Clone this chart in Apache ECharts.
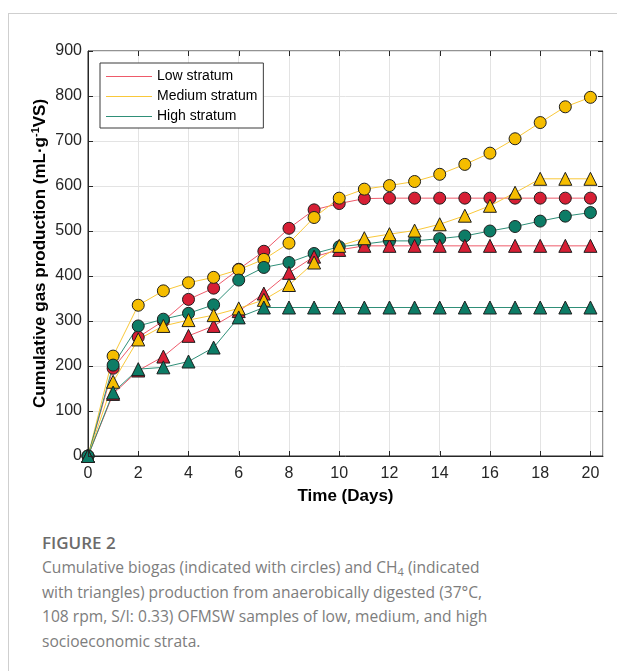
<!DOCTYPE html>
<html>
<head>
<meta charset="utf-8">
<script src="https://cdn.jsdelivr.net/npm/echarts@6/dist/echarts.min.js"></script>
<style>
  html, body { margin: 0; padding: 0; background: #fff; }
  #wrap { position: relative; width: 617px; height: 671px; overflow: hidden; }
  #frame { position: absolute; left: 8px; top: 13px; width: 700px; height: 700px;
           border-top: 1px solid #cfcfcf; border-left: 1px solid #cfcfcf; }
  #chart { position: absolute; left: 0; top: 0; width: 617px; height: 520px; }
  .fig { position: absolute; left: 42px; top: 531px; font-family: "Open Sans", sans-serif;
         font-size: 17px; font-weight: 600; color: #6b6b6b; }
  .cap { position: absolute; left: 42px; top: 555px; font-family: "Open Sans", sans-serif;
         font-size: 15.6px; line-height: 24.7px; color: #7d7d7d; white-space: nowrap; }
  .cap sub { font-size: 11px; vertical-align: -3px; line-height: 0; }
</style>
</head>
<body>
<div id="wrap">
  <div id="frame"></div>
  <div id="chart"></div>
  <div class="fig">FIGURE 2</div>
  <div class="cap">Cumulative biogas (indicated with circles) and CH<sub>4</sub> (indicated<br>with triangles) production from anaerobically digested (37°C,<br>108 rpm, S/I: 0.33) OFMSW samples of low, medium, and high<br>socioeconomic strata.</div>
</div>
<script>
// days 0..20
const days = [0, 1, 2, 3, 4, 5, 6, 7, 8, 9, 10, 11, 12, 13, 14, 15, 16, 17, 18, 19, 20];

// cumulative biogas (circles)
const lowBiogas = [0, 195, 264, 300, 348, 373, 415, 455, 506, 547, 561, 572, 573, 573, 573, 573, 573, 573, 573, 573, 573];
const mediumBiogas = [0, 222, 335, 367, 385, 397, 414, 437, 473, 530, 573, 593, 601, 610, 626, 648, 673, 705, 741, 776, 797];
const highBiogas = [0, 202, 289, 304, 317, 336, 391, 419, 430, 450, 465, 471, 478, 478, 483, 489, 500, 510, 522, 533, 541];

// cumulative CH4 (triangles)
const lowCH4 = [0, 138, 190, 221, 267, 289, 322, 361, 407, 443, 458, 467, 467, 467, 467, 467, 467, 467, 467, 467, 467];
const mediumCH4 = [0, 165, 259, 289, 302, 313, 328, 347, 380, 430, 467, 484, 493, 501, 515, 534, 556, 585, 616, 616, 616];
const highCH4 = [0, 141, 193, 197, 210, 241, 308, 330, 330, 330, 330, 330, 330, 330, 330, 330, 330, 330, 330, 330, 330];

const yTicks = [0, 100, 200, 300, 400, 500, 600, 700, 800, 900];
const xTicks = [0, 2, 4, 6, 8, 10, 12, 14, 16, 18, 20];
const xMax = 20.5;

const colors = {
    low: { line: '#ee5a6a', fill: '#d61f35' },
    medium: { line: '#f9c83a', fill: '#f5bd00' },
    high: { line: '#2f8f78', fill: '#0d7c66' }
};

const pairs = (arr) => days.map((d, i) => [d, arr[i]]);

const makeSeries = (name, values, c, symbol, size) => ({
    name: name,
    type: 'line',
    data: pairs(values),
    symbol: symbol,
    symbolSize: size,
    showAllSymbol: true,
    lineStyle: { color: c.line, width: 1 },
    itemStyle: { color: c.fill, borderColor: '#1e1e1e', borderWidth: 1 },
    emphasis: { disabled: true },
    animation: false
});

const chart = echarts.init(document.getElementById('chart'), null, { renderer: 'canvas' });

const axisColor = '#262626';
const font = '"Liberation Sans", Arial, sans-serif';

const option = {
    backgroundColor: 'transparent',
    textStyle: { fontFamily: font },
    grid: { left: 88, right: 14, top: 51, height: 405, show: true, borderColor: axisColor, borderWidth: 1, containLabel: false },
    legend: {
        left: 100,
        top: 63,
        orient: 'vertical',
        padding: [6, 6, 4, 6],
        itemGap: 5,
        itemWidth: 46,
        itemHeight: 1,
        icon: 'rect',
        borderColor: '#3a3a3a',
        borderWidth: 1,
        backgroundColor: '#fff',
        selectedMode: false,
        textStyle: { fontFamily: font, fontSize: 14, color: '#000', lineHeight: 15 },
        data: [
            { name: 'Low stratum', itemStyle: { color: colors.low.line, borderWidth: 0 } },
            { name: 'Medium stratum', itemStyle: { color: colors.medium.line, borderWidth: 0 } },
            { name: 'High stratum', itemStyle: { color: colors.high.line, borderWidth: 0 } }
        ]
    },
    xAxis: {
        type: 'value',
        min: 0,
        max: xMax,
        interval: 2,
        name: 'Time (Days)',
        nameLocation: 'middle',
        nameGap: 32,
        nameTextStyle: { fontFamily: font, fontSize: 17, fontWeight: 'bold', color: '#000' },
        axisLine: { show: true, lineStyle: { color: axisColor } },
        axisTick: { show: false },
        axisLabel: {
            fontFamily: font, fontSize: 16, color: axisColor, margin: 10,
            formatter: (v) => xTicks.includes(v) ? String(v) : ''
        },
        splitLine: { show: true, lineStyle: { color: '#e3e3e3' } }
    },
    yAxis: {
        type: 'value',
        min: 0,
        max: 900,
        interval: 100,
        name: '{t|Cumulative gas production (mL·g}{s|-1}{t|VS)}',
        nameLocation: 'middle',
        nameGap: 38,
        nameMoveOverlap: false,
        nameRotate: 90,
        nameTextStyle: {
            rich: {
                t: { fontFamily: font, fontSize: 17, fontWeight: 'bold', color: '#000', lineHeight: 20 },
                s: { fontFamily: font, fontSize: 11, fontWeight: 'bold', color: '#000', verticalAlign: 'top', lineHeight: 20 }
            }
        },
        axisLine: { show: true, lineStyle: { color: axisColor } },
        axisTick: { show: false },
        axisLabel: {
            fontFamily: font, fontSize: 16, color: axisColor, margin: 6,
            formatter: (v) => yTicks.includes(v) ? String(v) : ''
        },
        splitLine: { show: true, lineStyle: { color: '#e3e3e3' } }
    },
    series: [
        makeSeries('Low stratum', lowBiogas, colors.low, 'circle', 12),
        makeSeries('Medium stratum', mediumBiogas, colors.medium, 'circle', 12),
        makeSeries('High stratum', highBiogas, colors.high, 'circle', 12),
        makeSeries('Low stratum', lowCH4, colors.low, 'triangle', 13),
        makeSeries('Medium stratum', mediumCH4, colors.medium, 'triangle', 13),
        makeSeries('High stratum', highCH4, colors.high, 'triangle', 13)
    ]
};

chart.setOption(option);

// inward ticks on all four sides of the box, placed with the chart's own scales
const addTicks = () => {
    const len = 5;
    const els = [];
    const line = (x1, y1, x2, y2) => ({
        type: 'line', silent: true, z: 5,
        shape: { x1: x1, y1: y1, x2: x2, y2: y2 },
        style: { stroke: axisColor, lineWidth: 1 }
    });
    const top = chart.convertToPixel({ gridIndex: 0 }, [0, 900])[1];
    const bottom = chart.convertToPixel({ gridIndex: 0 }, [0, 0])[1];
    const left = chart.convertToPixel({ gridIndex: 0 }, [0, 0])[0];
    const right = chart.convertToPixel({ gridIndex: 0 }, [xMax, 0])[0];
    xTicks.forEach((t) => {
        const x = Math.round(chart.convertToPixel({ gridIndex: 0 }, [t, 0])[0]) + 0.5;
        els.push(line(x, bottom, x, bottom - len));
        els.push(line(x, top, x, top + len));
    });
    yTicks.forEach((t) => {
        const y = Math.round(chart.convertToPixel({ gridIndex: 0 }, [0, t])[1]) + 0.5;
        els.push(line(left, y, left + len, y));
        els.push(line(right, y, right - len, y));
    });
    chart.setOption({ graphic: els });
};
addTicks();

window.addEventListener('resize', chart.resize);
</script>
</body>
</html>
